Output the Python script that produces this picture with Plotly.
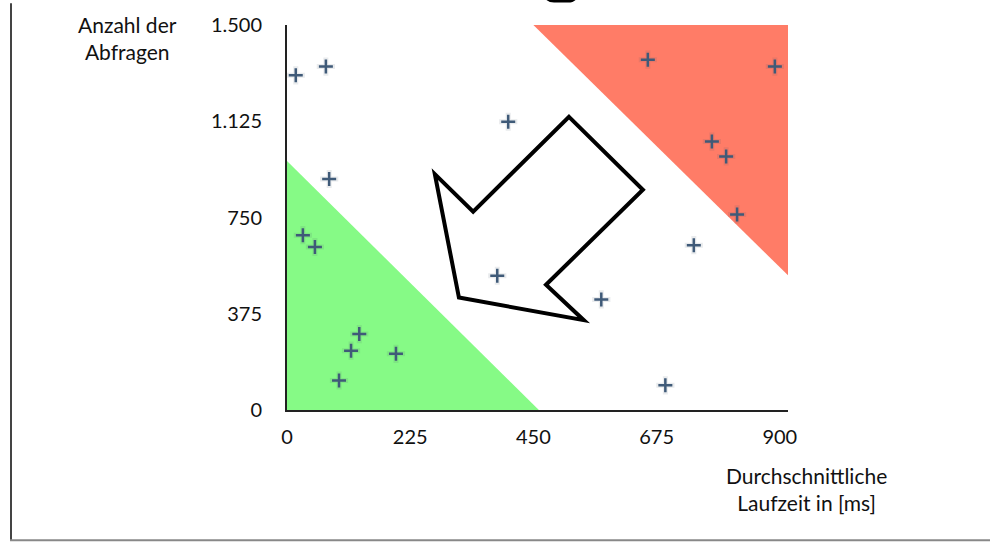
import plotly.graph_objects as go

# ---- data ----
laufzeit_ms = [16, 71, 77, 404, 29, 51, 132, 117, 199, 95, 384, 574, 691, 743, 659, 891, 776, 802, 822]
abfragen = [1304, 1338, 900, 1123, 681, 635, 296, 231, 219, 115, 523, 431, 96, 642, 1365, 1338, 1046, 988, 762]

x_tickvals = [0, 225, 450, 675, 900]
x_ticktext = ["0", "225", "450", "675", "900"]
y_tickvals = [0, 375, 750, 1125, 1500]
y_ticktext = ["0", "375", "750", "1.125", "1.500"]

# zone polygons (data units)
green_zone_x = [0, 0, 460]
green_zone_y = [0, 970, 0]
red_zone_x = [450, 922, 922]
red_zone_y = [1500, 1500, 510]

# decorative arrow outline (data units)
arrow_x = [515, 650, 473, 542, 314, 270, 340]
arrow_y = [1142, 858, 488, 350, 438, 919, 773]

W, H = 990, 543
L, R, T, B = 287, 202, 20, 133
PW, PH = W - L - R, H - T - B

def px(xp):
    return (xp - L) / PW

def py(yp):
    return (H - B - yp) / PH

FONT = "Lato, 'Open Sans', sans-serif"

fig = go.Figure()

# marker shadow
fig.add_trace(go.Scatter(
    x=laufzeit_ms, y=abfragen, mode="markers", hoverinfo="skip",
    marker=dict(symbol="cross-thin", size=13,
                line=dict(width=5, color="rgba(70,90,110,0.12)")),
    showlegend=False,
))
fig.add_trace(go.Scatter(
    x=laufzeit_ms, y=abfragen, mode="markers",
    marker=dict(symbol="cross-thin", size=10,
                line=dict(width=2.5, color="#3f5a78")),
    showlegend=False,
))

def poly_path(xs, ys):
    return "M " + " L ".join(f"{a},{b}" for a, b in zip(xs, ys)) + " Z"

shapes = [
    dict(type="path", xref="x", yref="y", path=poly_path(green_zone_x, green_zone_y),
         fillcolor="#86fa86", line=dict(width=0), layer="below"),
    dict(type="path", xref="x", yref="y", path=poly_path(red_zone_x, red_zone_y),
         fillcolor="#ff7c67", line=dict(width=0), layer="below"),
    dict(type="path", xref="x", yref="y", path=poly_path(arrow_x, arrow_y),
         fillcolor="rgba(0,0,0,0)", line=dict(width=4, color="black"), layer="above"),
    # frame lines
    dict(type="line", xref="paper", yref="paper", x0=px(11), x1=px(11), y0=py(-2), y1=py(542),
         line=dict(width=2, color="#444")),
    dict(type="line", xref="paper", yref="paper", x0=px(10), x1=px(992), y0=py(542), y1=py(542),
         line=dict(width=2, color="#888")),
    # partially cut-off outlined object at the top edge
    dict(type="path", xref="paper", yref="paper",
         path=(f"M {px(546)},{py(-30)} L {px(546)},{py(-12)} "
               f"Q {px(546)},{py(-4.5)} {px(554)},{py(-4.5)} L {px(568)},{py(-4.5)} "
               f"Q {px(576)},{py(-4.5)} {px(576)},{py(-12)} L {px(576)},{py(-30)}"),
         line=dict(width=3.5, color="black"), fillcolor="rgba(0,0,0,0)"),
]

annotations = [
    dict(text="Anzahl der<br>Abfragen", xref="paper", yref="paper",
         x=px(127), y=py(33), xanchor="center", yanchor="middle", showarrow=False,
         font=dict(family=FONT, size=21, color="#111"), align="center"),
    dict(text="Durchschnittliche<br>Laufzeit in [ms]", xref="paper", yref="paper",
         x=px(806), y=py(490), xanchor="center", yanchor="middle", showarrow=False,
         font=dict(family=FONT, size=21, color="#111"), align="center"),
]

fig.update_layout(
    width=W, height=H,
    margin=dict(l=L, r=R, t=T, b=B, pad=0),
    paper_bgcolor="white", plot_bgcolor="white",
    shapes=shapes, annotations=annotations,
    font=dict(family=FONT, size=20, color="#111"),
    xaxis=dict(range=[0, 915], showgrid=False, zeroline=False,
               showline=True, linecolor="#222", linewidth=1.5,
               tickvals=x_tickvals, ticktext=x_ticktext, ticks="",
               ticklabelstandoff=8, fixedrange=True),
    yaxis=dict(range=[0, 1500], showgrid=False, zeroline=False,
               showline=True, linecolor="#222", linewidth=2,
               tickvals=y_tickvals, ticktext=y_ticktext, ticks="",
               ticklabelstandoff=19, fixedrange=True),
)

fig.write_html("out.html", config={"displayModeBar": False},
               post_script="document.body.style.margin='0';document.body.style.overflow='hidden';")
